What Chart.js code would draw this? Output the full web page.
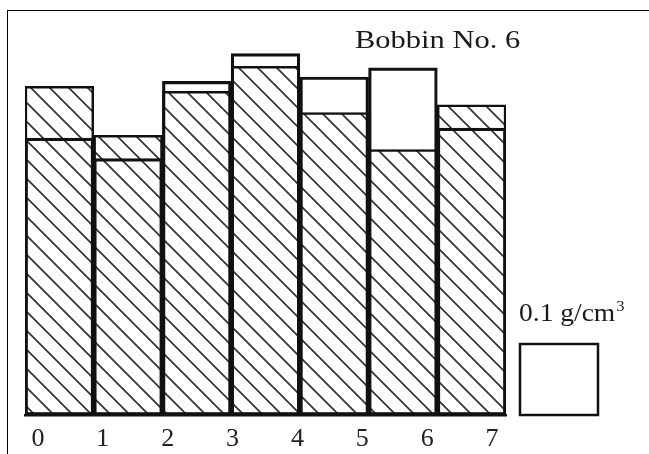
<!DOCTYPE html>
<html>
<head>
<meta charset="utf-8">
<script src="https://cdn.jsdelivr.net/npm/chart.js@4.4.0/dist/chart.umd.min.js"></script>
<style>
  html, body { margin: 0; padding: 0; background: #fff; overflow: hidden; }
  .frame {
    position: absolute; left: 7px; top: 10px; width: 700px; height: 500px;
    border-left: 1.5px solid #000; border-top: 1.5px solid #000;
  }
  .chart_box { position: absolute; left: 0; top: 0; width: 649px; height: 454px; }
</style>
</head>
<body>
<div class="frame"></div>
<div class="chart_box"><canvas id="chart"></canvas></div>
<script>
// layer positions along the bobbin, edges labelled 0..7
const tickLabels = ["0", "1", "2", "3", "4", "5", "6", "7"];
const segments = ["0-1", "1-2", "2-3", "3-4", "4-5", "5-6", "6-7"];
// density g/cm3
const hatchedDensity = [0.463, 0.394, 0.456, 0.491, 0.426, 0.374, 0.437];
const outlineDensity = [0.390, 0.361, 0.470, 0.509, 0.476, 0.489, 0.404];
const scaleValue = 0.1;
const titleText = "Bobbin No. 6";
const scaleText = "0.1 g/cm";

function makeHatch() {
  var s = 19;
  var c = document.createElement("canvas");
  c.width = s;
  c.height = s;
  var g = c.getContext("2d");
  g.fillStyle = "#fff";
  g.fillRect(0, 0, s, s);
  g.strokeStyle = "#333";
  g.lineWidth = 1.7;
  g.beginPath();
  g.moveTo(-1, -1); g.lineTo(s + 1, s + 1);
  g.moveTo(s - 1, -1); g.lineTo(s + 1, 1);
  g.moveTo(-1, s - 1); g.lineTo(1, s + 1);
  g.stroke();
  return g.createPattern(c, "repeat");
}

var extras = {
  id: "extras",
  afterDatasetsDraw(chart) {
    var ctx = chart.ctx;
    var y = chart.scales.y;
    var area = chart.chartArea;
    // scale box 0.1 g/cm3
    var top = y.getPixelForValue(scaleValue);
    var bottom = y.getPixelForValue(0);
    var left = area.right + 14;
    ctx.save();
    ctx.strokeStyle = "#111";
    ctx.lineWidth = 2.5;
    ctx.strokeRect(left, top, 78, bottom - top);

    ctx.fillStyle = "#1a1a1a";
    ctx.textBaseline = "alphabetic";
    ctx.font = "25px 'Liberation Serif'";
    ctx.save();
    ctx.translate(left - 1, top - 23);
    ctx.scale(1.1, 1);
    ctx.fillText(scaleText, 0, 0);
    var w = ctx.measureText(scaleText).width;
    ctx.font = "15px 'Liberation Serif'";
    ctx.fillText("3", w + 1, -10);
    ctx.restore();

    ctx.font = "25px 'Liberation Serif'";
    ctx.save();
    ctx.translate(355, 48);
    ctx.scale(1.22, 1);
    ctx.fillText(titleText, 0, 0);
    ctx.restore();
    ctx.restore();
  },
};

var ctx = document.getElementById("chart").getContext("2d");
var myChart = new Chart(ctx, {
  type: "bar",
  data: {
    labels: segments,
    datasets: [
      {
        label: "hatched",
        data: hatchedDensity,
        backgroundColor: makeHatch(),
        borderColor: "#111",
        borderWidth: 2.5,
        borderSkipped: false,
        barPercentage: 1,
        categoryPercentage: 1,
        grouped: false,
        order: 2,
      },
      {
        label: "outline",
        data: outlineDensity,
        backgroundColor: "rgba(0,0,0,0)",
        borderColor: "#111",
        borderWidth: 2.5,
        borderSkipped: false,
        barPercentage: 1,
        categoryPercentage: 1,
        grouped: false,
        order: 1,
      },
    ],
  },
  options: {
    responsive: true,
    maintainAspectRatio: false,
    animation: false,
    layout: { padding: { left: 25, right: 143, top: 24.5, bottom: 0 } },
    plugins: { legend: { display: false }, tooltip: { enabled: false } },
    scales: {
      x: { display: false, offset: true },
      x2: {
        type: "linear",
        position: "bottom",
        offset: false,
        min: -0.2,
        max: 7.216,
        afterBuildTicks: (s) => {
          s.ticks = tickLabels.map((t) => ({ value: Number(t) }));
        },
        afterFit: (s) => {
          s.height = 39;
        },
        grid: { display: false, offset: false },
        border: { display: true, color: "#111", width: 2.5 },
        ticks: {
          autoSkip: false,
          maxRotation: 0,
          padding: 1,
          color: "#222",
          font: { family: "'Liberation Serif'", size: 26 },
          callback: (v) => tickLabels[v],
        },
      },
      y: { display: false, min: 0, max: 0.55 },
    },
  },
  plugins: [extras],
});
</script>
</body>
</html>
